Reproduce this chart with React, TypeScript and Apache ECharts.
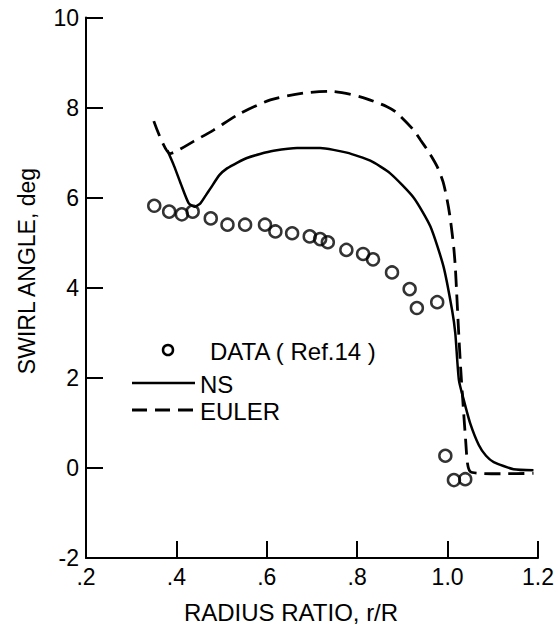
import React, { useEffect, useRef } from "react";
import * as echarts from "echarts";

// Measured data (Ref.14)
const dataR = [0.351, 0.384, 0.412, 0.436, 0.476, 0.513, 0.552, 0.596, 0.619, 0.656, 0.695, 0.718, 0.735, 0.776, 0.813, 0.835, 0.877, 0.916, 0.932, 0.977, 0.995, 1.014, 1.039];
const dataAngle = [5.82, 5.69, 5.63, 5.69, 5.54, 5.4, 5.4, 5.4, 5.25, 5.21, 5.14, 5.08, 5.01, 4.84, 4.75, 4.63, 4.34, 3.97, 3.55, 3.68, 0.27, -0.27, -0.25];

// Navier-Stokes computation
const nsR = [0.38, 0.395, 0.41, 0.427, 0.44, 0.452, 0.465, 0.475, 0.495, 0.512, 0.535, 0.556, 0.585, 0.615, 0.667, 0.718, 0.777, 0.829, 0.873, 0.925, 0.962, 0.991, 1.01, 1.017, 1.025, 1.036, 1.05, 1.069, 1.085, 1.102, 1.146, 1.19];
const nsAngle = [7.05, 6.7, 6.3, 5.88, 5.8, 5.86, 6.05, 6.2, 6.5, 6.65, 6.78, 6.88, 6.97, 7.04, 7.1, 7.1, 7.0, 6.82, 6.54, 6.0, 5.36, 4.47, 3.5, 2.99, 1.95, 1.5, 0.99, 0.51, 0.27, 0.13, -0.03, -0.05];

// Euler computation
const eulerR = [0.35, 0.386, 0.4, 0.438, 0.482, 0.541, 0.608, 0.681, 0.74, 0.807, 0.866, 0.888, 0.925, 0.94, 0.958, 0.977, 0.99, 0.999, 1.005, 1.01, 1.014, 1.017, 1.02, 1.024, 1.029, 1.035, 1.04, 1.044, 1.05, 1.07, 1.12, 1.19];
const eulerAngle = [7.7, 6.98, 7.03, 7.25, 7.5, 7.87, 8.17, 8.32, 8.36, 8.24, 8.02, 7.88, 7.5, 7.28, 7.02, 6.69, 6.35, 5.95, 5.6, 5.21, 4.85, 4.47, 3.9, 3.1, 2.2, 1.3, 0.6, 0.1, -0.08, -0.12, -0.13, -0.12];

const xTickLabels: Record<string, string> = { "0.2": ".2", "0.4": ".4", "0.6": ".6", "0.8": ".8", "1": "1.0", "1.2": "1.2" };

const FONT = "'Liberation Sans', Arial, sans-serif";

export default function App() {
  const ref = useRef<HTMLDivElement>(null);
  useEffect(() => {
    if (!ref.current) return;
    const chart = echarts.init(ref.current, null, { renderer: "svg" });
    const pair = (xs: number[], ys: number[]) => xs.map((x, i) => [x, ys[i]]);
    chart.setOption({
      animation: false,
      backgroundColor: "#fff",
      grid: { left: 86, right: 20, top: 17.5, bottom: 81, containLabel: false },
      xAxis: {
        type: "value",
        min: 0.2,
        max: 1.2,
        interval: 0.2,
        axisLine: { show: true, onZero: false, lineStyle: { color: "#000", width: 2 } },
        axisTick: { show: true, inside: true, length: 17, lineStyle: { color: "#000", width: 2 } },
        axisLabel: {
          color: "#000",
          fontSize: 23,
          fontFamily: FONT,
          margin: 7,
          formatter: (v: number) => xTickLabels[String(Math.round(v * 10) / 10)] ?? String(v),
        },
        splitLine: { show: false },
      },
      yAxis: {
        type: "value",
        min: -2,
        max: 10,
        interval: 2,
        axisLine: { show: true, onZero: false, lineStyle: { color: "#000", width: 2 } },
        axisTick: { show: true, inside: true, length: 17, lineStyle: { color: "#000", width: 2 } },
        axisLabel: { color: "#000", fontSize: 23, fontFamily: FONT, margin: 7 },
        splitLine: { show: false },
      },
      series: [
        {
          name: "NS",
          type: "line",
          data: pair(nsR, nsAngle),
          showSymbol: false,
          symbol: "none",
          smooth: 0.2,
          lineStyle: { color: "#000", width: 2.5, type: "solid" },
        },
        {
          name: "EULER",
          type: "line",
          data: pair(eulerR, eulerAngle),
          showSymbol: false,
          symbol: "none",
          smooth: 0.25,
          lineStyle: { color: "#000", width: 2.8, type: [16, 8] },
        },
        {
          name: "DATA ( Ref.14 )",
          type: "scatter",
          data: pair(dataR, dataAngle),
          symbol: "circle",
          symbolSize: 12,
          itemStyle: { color: "rgba(0,0,0,0)", borderColor: "#000", borderWidth: 2.5 },
        },
      ],
      graphic: [
        {
          type: "text",
          x: 27,
          y: 271,
          rotation: Math.PI / 2,
          style: { text: "SWIRL ANGLE, deg", font: `23px ${FONT}`, fill: "#000", align: "center", verticalAlign: "middle" },
        },
        {
          type: "text",
          x: 291,
          y: 612,
          style: { text: "RADIUS RATIO, r/R", font: `24px ${FONT}`, fill: "#000", align: "center", verticalAlign: "middle" },
        },
        { type: "circle", shape: { cx: 168, cy: 350, r: 5 }, style: { fill: "none", stroke: "#000", lineWidth: 2.5 } },
        {
          type: "text",
          x: 210,
          y: 351,
          style: { text: "DATA ( Ref.14 )", font: `24px ${FONT}`, fill: "#000", align: "left", verticalAlign: "middle" },
        },
        { type: "line", shape: { x1: 132, y1: 383, x2: 195, y2: 383 }, style: { stroke: "#000", lineWidth: 2.5 } },
        {
          type: "text",
          x: 200,
          y: 384,
          style: { text: "NS", font: `24px ${FONT}`, fill: "#000", align: "left", verticalAlign: "middle" },
        },
        { type: "line", shape: { x1: 132, y1: 410, x2: 195, y2: 410 }, style: { stroke: "#000", lineWidth: 2.8, lineDash: [15, 8] } },
        {
          type: "text",
          x: 200,
          y: 411,
          style: { text: "EULER", font: `24px ${FONT}`, fill: "#000", align: "left", verticalAlign: "middle" },
        },
      ],
    });
    return () => chart.dispose();
  }, []);
  return <div ref={ref} style={{ position: "fixed", left: 0, top: 0, width: 558, height: 639 }} />;
}
